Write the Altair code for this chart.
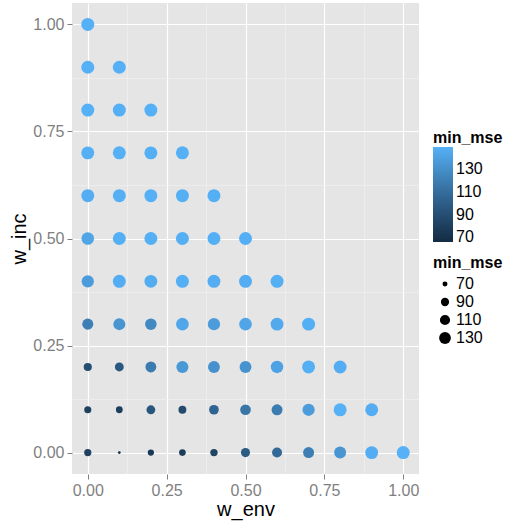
import math
import altair as alt
import pandas as pd

# Weight grid shared by both axes
w_steps = [0.0, 0.1, 0.2, 0.3, 0.4, 0.5, 0.6, 0.7, 0.8, 0.9, 1.0]

# min_mse per w_inc row, listed by increasing w_env (w_env + w_inc <= 1)
mse_inc_00 = [82, 66, 76, 78, 83, 98, 107, 120, 133, 147, 149]
mse_inc_01 = [81, 79, 95, 87, 104, 115, 119, 137, 149, 147]
mse_inc_02 = [89, 96, 118, 135, 131, 132, 140, 148, 147]
mse_inc_03 = [120, 133, 126, 143, 137, 142, 145, 148]
mse_inc_04 = [137, 147, 146, 148, 147, 147, 148]
mse_inc_05 = [142, 148, 148, 148, 148, 148]
mse_inc_06 = [147, 148, 148.5, 148, 148]
mse_inc_07 = [148, 148.5, 148, 148.5]
mse_inc_08 = [148.5, 148, 148.5]
mse_inc_09 = [148.5, 148.5]
mse_inc_10 = [148.5]

rows = [mse_inc_00, mse_inc_01, mse_inc_02, mse_inc_03, mse_inc_04, mse_inc_05,
        mse_inc_06, mse_inc_07, mse_inc_08, mse_inc_09, mse_inc_10]

records = []
for i, row in enumerate(rows):
    for j, v in enumerate(row):
        records.append({"w_env": w_steps[j], "w_inc": w_steps[i], "min_mse": v})
df = pd.DataFrame(records)

# Axis breaks: labelled majors plus unlabelled minors
grid_breaks = [0.0, 0.125, 0.25, 0.375, 0.5, 0.625, 0.75, 0.875, 1.0]
legend_breaks = [70, 90, 110, 130]

# Size scale: diameter grows with the square root of the rescaled value
lo, hi = df["min_mse"].min(), df["min_mse"].max()
d_min, d_max = 3.1, 14.7
fracs = [0.0, 0.05, 0.15, 0.3, 0.5, 0.75, 1.0]
size_domain = [lo + f * (hi - lo) for f in fracs]
size_range = [math.pi / 4 * (d_min + (d_max - d_min) * math.sqrt(f)) ** 2 for f in fracs]

FONT = "Liberation Sans"
is_minor = "abs(datum.value * 4 - round(datum.value * 4)) > 0.001"


def grey_axis(title, **kw):
    return alt.Axis(
        title=title,
        values=grid_breaks,
        labelExpr=f"{is_minor} ? '' : format(datum.value, '.2f')",
        grid=True,
        gridColor={"condition": {"test": is_minor, "value": "#F2F2F2"}, "value": "#FFFFFF"},
        gridWidth={"condition": {"test": is_minor, "value": 0.6}, "value": 1.2},
        tickColor={"condition": {"test": is_minor, "value": "transparent"}, "value": "#7F7F7F"},
        tickSize=5,
        tickWidth=1,
        domain=False,
        labelFont=FONT,
        labelFontSize=16,
        labelColor="#7F7F7F",
        labelFlush=False,
        labelOverlap=False,
        titleFont=FONT,
        titleFontSize=20,
        titleFontWeight="normal",
        titleColor="#000000",
        **kw,
    )


pad = 0.05
chart = alt.Chart(df).mark_circle(opacity=1).encode(
    x=alt.X("w_env:Q",
            scale=alt.Scale(domain=[-pad, 1 + pad], nice=False, zero=False),
            axis=grey_axis("w_env", labelPadding=3, titlePadding=1)),
    y=alt.Y("w_inc:Q",
            scale=alt.Scale(domain=[-pad, 1 + pad], nice=False, zero=False),
            axis=grey_axis("w_inc", labelPadding=3, titlePadding=3)),
    color=alt.Color(
        "min_mse:Q",
        scale=alt.Scale(range=["#132B43", "#56B1F7"], interpolate="lab"),
        legend=alt.Legend(
            title="min_mse", values=legend_breaks, orient="none",
            legendX=361, legendY=127, direction="vertical",
            gradientLength=95, gradientThickness=20, gradientStrokeWidth=0,
            labelFont=FONT, labelFontSize=16, labelOffset=3, labelColor="#000000",
            titleFont=FONT, titleFontSize=16, titleFontWeight="bold", titlePadding=1,
            titleColor="#000000",
        ),
    ),
    size=alt.Size(
        "min_mse:Q",
        scale=alt.Scale(domain=size_domain, range=size_range),
        legend=alt.Legend(
            title="min_mse", values=legend_breaks, orient="none",
            legendX=361, legendY=252, direction="vertical",
            symbolFillColor="#000000", symbolStrokeWidth=0, symbolOpacity=1,
            symbolOffset=4,
            labelFont=FONT, labelFontSize=16, labelOffset=3, labelColor="#000000",
            rowPadding=2,
            titleFont=FONT, titleFontSize=16, titleFontWeight="bold", titlePadding=5,
            titleColor="#000000",
        ),
    ),
).properties(
    width=347,
    height=471,
    background="#FFFFFF",
    padding={"left": 72, "top": 3, "right": 90, "bottom": 47},
    autosize=alt.AutoSizeParams(type="none"),
).configure_view(
    fill="#E5E5E5", stroke=None
)

chart.save("out.html", embed_options={"renderer": "svg", "actions": False})
